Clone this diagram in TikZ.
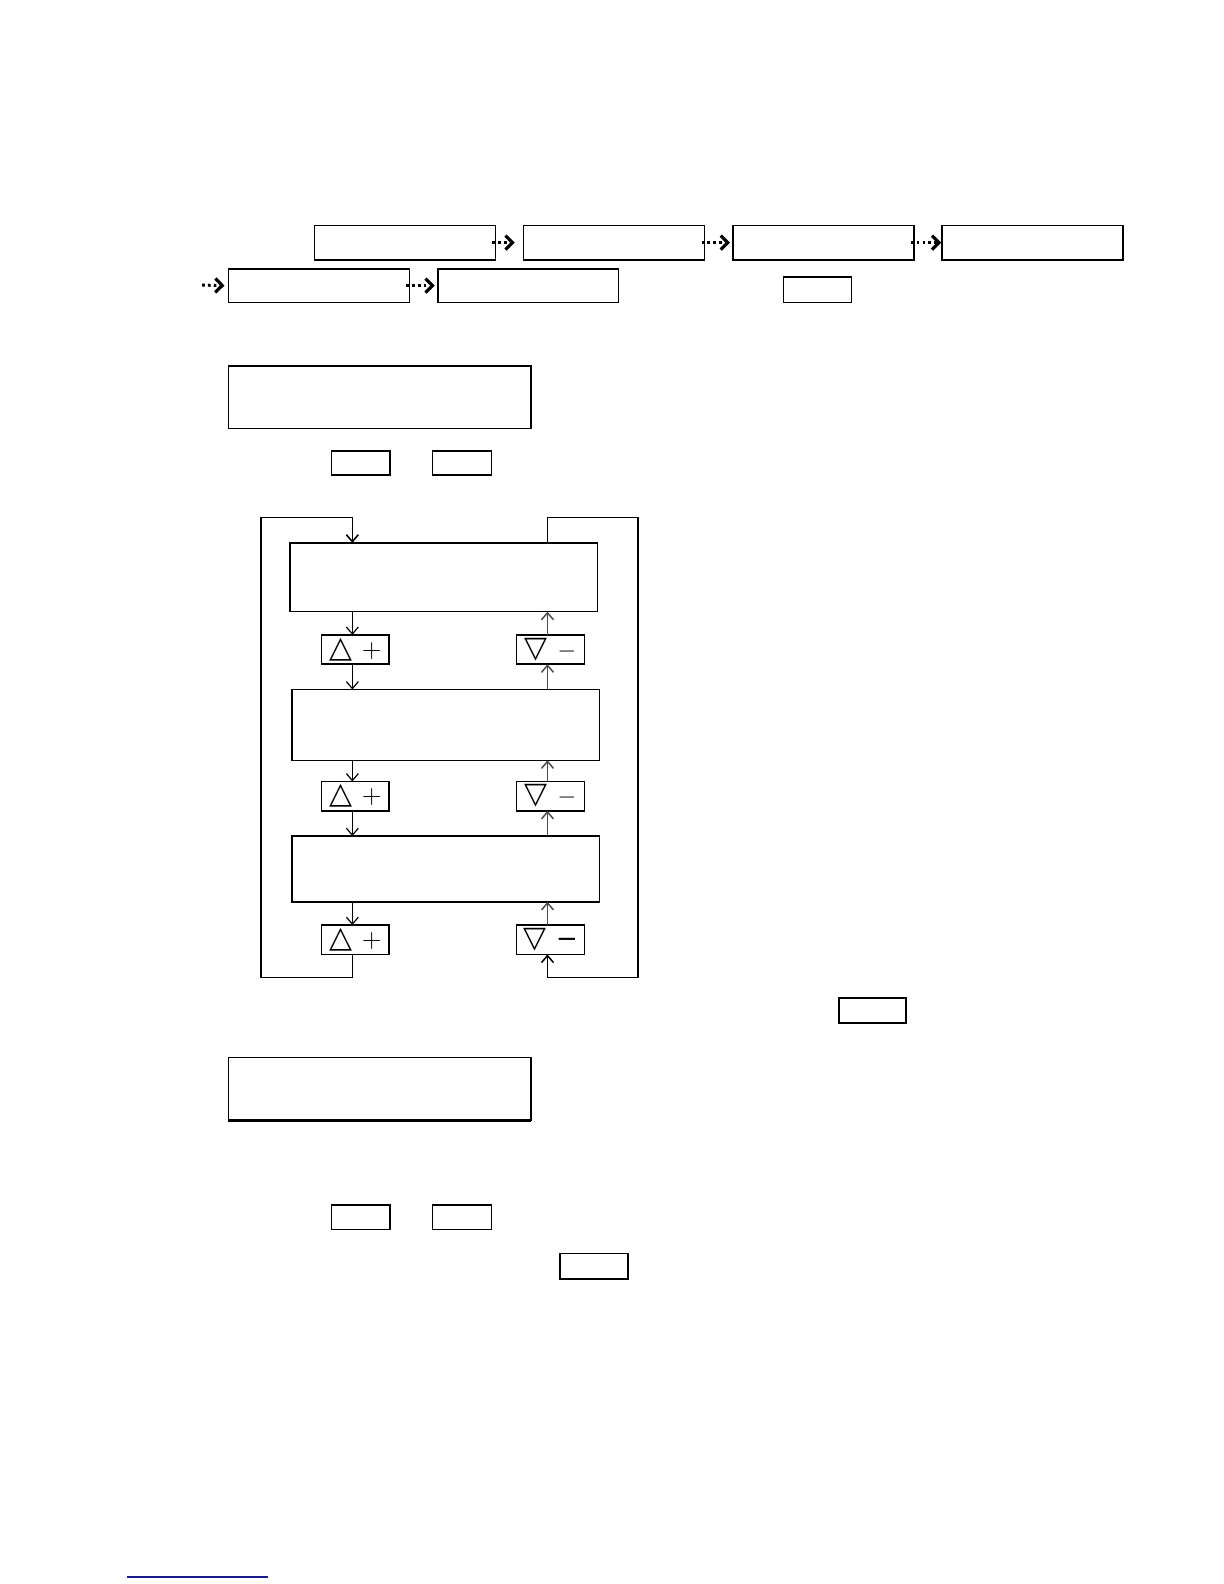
\documentclass[tikz,border=0pt]{standalone}
\usepackage{fontspec}
\newfontfamily\symfont{DejaVu Sans}
\usetikzlibrary{arrows.meta}
\definecolor{linkblue}{RGB}{25,25,140}
\def\pxu{0.5055bp}
\tikzset{
	box/.style={draw, line width=0.75pt, inner sep=0pt, outer sep=0pt},
	keybox/.style={box, font=\fontsize{13}{13}\selectfont},
	flow/.style={line width=0.6pt, -{Straight Barb[length=3.5pt,width=6pt]}},
	back/.style={flow, draw=black!70, line width=0.75pt},
	hop/.style={line width=1.5pt, dash pattern=on 1.3pt off 1.6pt, -{Straight Barb[length=3.5pt,width=7pt,line width=1.6pt]}}
}
\newcommand{\pxbox}[7][box]{\node[#1, minimum width={(#5-#3)*\pxu}, minimum height={(#6-#4)*\pxu}] (#2) at ({(#3+#5)/2},{(#4+#6)/2}) {#7};}
\newcommand{\tri}[1]{{\symfont\fontsize{15}{15}\selectfont#1}}

\begin{document}
\begin{tikzpicture}[x=\pxu, y=-\pxu]
		%%%%% START %%%%%
		\useasboundingbox (0,0) rectangle (1210.7,1566.8);
		
		% first row
		\pxbox{menuA}{311}{223}{490}{257}{}
		\pxbox{menuB}{518}{223}{697}{257}{}
		\pxbox{menuC}{725}{223}{904}{257}{}
		\pxbox{menuD}{932}{223}{1111}{257}{}
		\draw[hop] ([xshift=-1.5pt]menuA.east) -- ([xshift=-4.5pt]menuB.west);
		\draw[hop] ([xshift=-1.5pt]menuB.east) -- ([xshift=-1.5pt]menuC.west);
		\draw[hop] ([xshift=-1.5pt]menuC.east) -- ([xshift=-0.5pt]menuD.west);
		
		% second row
		\coordinate (wrap) at (200,282);
		\pxbox{menuE}{226}{266}{405}{299}{}
		\pxbox{menuF}{433}{266}{612}{299}{}
		\draw[hop] (wrap) -- ([xshift=-2pt]menuE.west);
		\draw[hop] ([xshift=-1.5pt]menuE.east) -- ([xshift=-1.5pt]menuF.west);
		\pxbox{tagG}{775}{274}{842}{299}{}
		
		\pxbox{panelH}{226}{362}{525}{424}{}
		\pxbox{keyI}{328}{446}{386}{470}{}
		\pxbox{keyJ}{428}{446}{486}{470}{}
		
		% loop
		\pxbox{stepK}{287}{537}{591}{605}{}
		\pxbox{stepL}{289}{682}{593}{752}{}
		\pxbox{stepM}{289}{827}{593}{892}{}
		\pxbox[keybox]{upK}{318}{628}{385}{657}{\tri{△}\hspace{5pt}+}
		\pxbox[keybox]{upL}{318}{773}{385}{802}{\tri{△}\hspace{5pt}+}
		\pxbox[keybox]{upM}{318}{915}{385}{944}{\tri{△}\hspace{5pt}+}
		\pxbox[keybox]{dnK}{511}{628}{578}{657}{\tri{▽}\hspace{5pt}$-$}
		\pxbox[keybox]{dnL}{511}{773}{578}{802}{\tri{▽}\hspace{5pt}$-$}
		\pxbox[keybox]{dnM}{511}{915}{578}{944}{\tri{▽}\hspace{5pt}{\symfont −}}
		
		\foreach \a/\b in {stepK/upK, upK/stepL, stepL/upL, upL/stepM, stepM/upM}
			\draw[flow] ([xshift=-1.5pt]\a.south -| upK.north) -- ([xshift=-1.5pt]\b.north -| upK.north);
		\foreach \a/\b in {dnK/stepK, stepL/dnK, dnL/stepL, stepM/dnL, dnM/stepM}
			\draw[back] ([xshift=-1.5pt]\a.north -| dnK.north) -- ([xshift=-1.5pt]\b.south -| dnK.north);
		
		\coordinate (loopTL) at (258,512);
		\coordinate (loopBL) at (258,967);
		\coordinate (loopTR) at (631,512);
		\coordinate (loopBR) at (631,967);
		\draw[flow, line width=0.8pt] ([xshift=-1.5pt]upM.south) |- (loopBL) -- (loopTL) -| ([xshift=-1.5pt]stepK.north -| upK.north);
		\draw[back, draw=black, line width=0.8pt] ([xshift=-1.5pt]stepK.north -| dnK.north) |- (loopTR) -- (loopBR) -| ([xshift=-1.5pt]dnM.south);
		
		\pxbox{tagN}{830}{987}{896}{1012}{}
		
		\pxbox{panelO}{226}{1046}{525}{1108}{}
		\draw[line width=1.6pt] (panelO.south west) -- (panelO.south east);
		\pxbox{keyP}{328}{1192}{386}{1216}{}
		\pxbox{keyQ}{428}{1192}{486}{1216}{}
		\pxbox{tagR}{554}{1240}{621}{1265}{}
		
		\draw[linkblue, line width=0.9pt] (126,1560) -- (265,1560);
		
		%%%%% END %%%%%
\end{tikzpicture}
\end{document}
